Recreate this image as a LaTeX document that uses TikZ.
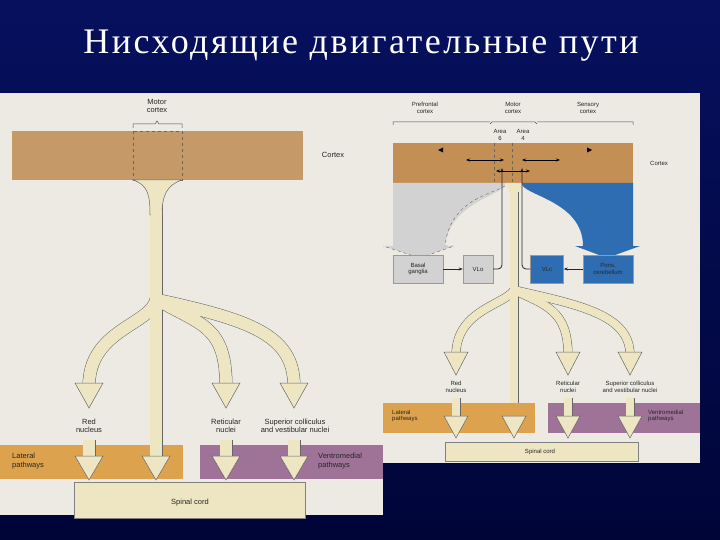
\documentclass[tikz,border=0pt]{standalone}
\usepackage{fontspec}
\setmainfont{Liberation Serif}
\newfontfamily\lab{Liberation Sans}
\usetikzlibrary{arrows.meta}
\definecolor{navy}{HTML}{06105E}
\definecolor{navyb}{HTML}{000538}
\definecolor{panel}{HTML}{ECEAE3}
\definecolor{ctx}{HTML}{C59A68}
\definecolor{ctxr}{HTML}{C38F55}
\definecolor{pale}{HTML}{EEE6C3}
\definecolor{latc}{HTML}{DDA24E}
\definecolor{venc}{HTML}{9E7397}
\definecolor{bluec}{HTML}{2F6DB3}
\definecolor{greyc}{HTML}{D2D2D2}
\tikzset{
  txt/.style={font=\lab\fontsize{7.5}{8.5}\selectfont, align=center, inner sep=0pt, text=black!85},
  txs/.style={font=\lab\fontsize{6}{6.8}\selectfont, align=center, inner sep=0pt, text=black!85},
  stemo/.style={line width=#1+1pt, draw=black!60},
  stemi/.style={line width=#1, draw=pale},
  head/.style={fill=pale, draw=black!60, line width=0.5pt},
  thin/.style={-{Stealth[length=4pt]}, line width=0.8pt, draw=black!85},
}
\newcommand{\branch}[2]{\draw[stemo=#1] #2; \draw[stemi=#1] #2;}
\newcommand{\hd}[4]{\path[head] (#1-#4,#2) -- (#1+#4,#2) -- (#1,#3) -- cycle;}
\begin{document}
\begin{tikzpicture}[x=1pt,y=-1pt]
\useasboundingbox (0,0) rectangle (720,540);
\shade[top color=navy, bottom color=navyb] (0,0) rectangle (720,540);
\node[text=white, font=\addfontfeatures{LetterSpace=7}\fontsize{36}{38}\selectfont] (title) at (361,46) {Нисходящие двигательные пути};
% ---------- right panel
\fill[panel] (383,93) rectangle (700,463);
\node[txs] (pf) at (425,108) {Prefrontal\\cortex};
\node[txs] (mr) at (513,108) {Motor\\cortex};
\node[txs] (sr) at (588,108) {Sensory\\cortex};
\draw[black!70, line width=0.5pt] (393,125) -- (393,122) -- (490,122) (490,124) -- (492,122) -- (535,122) -- (537,124) (537,122) -- (633,122) -- (633,125);
\node[txs] (a6) at (500,135) {Area\\6};
\node[txs] (a4) at (523,135) {Area\\4};
\fill[ctxr] (393,143) rectangle (633,183);
\node[txs] (cx2) at (659,163) {Cortex};
\fill[greyc] (393,183) -- (505,183) .. controls (508,195) and (450,200) .. (445,246) -- (454,246) -- (420,258) -- (383,246) -- (393,246) -- cycle;
\draw[black!60, dashed, line width=0.4pt] (505,186) .. controls (490,195) and (450,200) .. (445,246) -- (454,246) -- (420,258) -- (383,246);
\fill[bluec] (633,183) -- (522,183) .. controls (520,195) and (583,200) .. (583,246) -- (575,246) -- (607,258) -- (640,246) -- (633,246) -- cycle;
\draw[black!60, dashed, line width=0.4pt] (494,143) -- (494,183) (512,143) -- (512,183);
\fill[pale] (506,183) -- (522,183) -- (518,195) -- (510,195) -- cycle;
\node[draw=black!40, fill=greyc, minimum width=50pt, minimum height=28pt, txs] (bg) at (418,269) {Basal\\ganglia};
\node[draw=black!40, fill=greyc, minimum width=30pt, minimum height=28pt, txs] (vlo) at (478,269) {VLo};
\node[draw=black!40, fill=bluec, minimum width=33pt, minimum height=28pt, txs] (vlc) at (547,269) {VLc};
\node[draw=black!40, fill=bluec, minimum width=50pt, minimum height=28pt, txs] (pc) at (608,269) {Pons,\\cerebellum};
\draw[stemo=8pt] (514,290) .. controls (505,305) and (456,310) .. (456,355);
\draw[stemo=8pt] (514,290) .. controls (545,305) and (568,310) .. (568,355);
\draw[stemo=8pt] (514,290) .. controls (580,305) and (630,315) .. (630,355);
\draw[stemo=8pt] (514,192) -- (514,420);
\draw[stemi=8pt] (514,192) -- (514,420);
\draw[stemi=8pt] (514,290) .. controls (505,305) and (456,310) .. (456,355);
\draw[stemi=8pt] (514,290) .. controls (545,305) and (568,310) .. (568,355);
\draw[stemi=8pt] (514,290) .. controls (580,305) and (630,315) .. (630,355);
\hd{456}{352}{375}{12} \hd{568}{352}{375}{12} \hd{630}{352}{375}{12}
\fill[latc] (383,403) rectangle (535,433);
\fill[venc] (548,403) rectangle (700,433);
\node[txs, align=left, anchor=west] (lp2) at (392,416) {Lateral\\pathways};
\node[txs, align=left, anchor=west] (vp2) at (648,416) {Ventromedial\\pathways};
\draw[fill=pale, draw=black!50] (445,442) rectangle (638,461);
\node[txs] (sc2) at (540,452) {Spinal cord};
\node[txs] (rn2) at (456,387) {Red\\nucleus};
\node[txs] (rt2) at (568,387) {Reticular\\nuclei};
\node[txs] (sv2) at (630,387) {Superior colliculus\\and vestibular nuclei};
\foreach \xx in {456,568,630} {\branch{8pt}{(\xx,398) -- (\xx,418)}}
\foreach \xx in {456,514,568,630} {\hd{\xx}{416}{438}{12}}
\draw[thin] (bg.east) -- (vlo.west);
\draw[thin] (pc.west) -- (vlc.east);
\draw[thin, rounded corners=4pt] (vlo.east) -| (502,168);
\draw[thin, rounded corners=4pt] (vlc.west) -| (522,168);
\draw[{Stealth[length=4pt]}-{Stealth[length=4pt]}, line width=0.8pt] (466,160) -- (504,160);
\draw[{Stealth[length=4pt]}-{Stealth[length=4pt]}, line width=0.8pt] (522,160) -- (560,160);
\draw[{Stealth[length=4pt]}-{Stealth[length=4pt]}, line width=0.8pt] (496,171) -- (530,171);
\fill[black] (438,150) -- (443,147.5) -- (443,152.5) -- cycle;
\fill[black] (592,150) -- (587,147.5) -- (587,152.5) -- cycle;
% ---------- left panel
\fill[panel] (0,93) rectangle (383,515);
\fill[ctx] (12,131) rectangle (303,180);
\draw[dashed, black!60, line width=0.4pt] (133,131) rectangle (182,180);
\draw[black!70, line width=0.5pt] (133,128) -- (133,124) -- (155,124) -- (157,121) -- (159,124) -- (182,124) -- (182,128);
\node[txt] (mc) at (157,106) {Motor\\cortex};
\node[txt] (cx) at (333,155) {Cortex};
\fill[latc] (0,445) rectangle (183,479);
\fill[venc] (200,445) rectangle (383,479);
\node[txt, align=left, anchor=west] (lp) at (12,461) {Lateral\\pathways};
\node[txt, align=left, anchor=west] (vp) at (318,461) {Ventromedial\\pathways};
\draw[fill=pale, draw=black!50] (74,482) rectangle (305,518);
\node[txt] (sc) at (190,503) {Spinal cord};
\draw[stemo=12pt] (156,300) .. controls (150,325) and (89,330) .. (89,386);
\draw[stemo=12pt] (158,300) .. controls (200,325) and (226,325) .. (226,386);
\draw[stemo=12pt] (158,300) .. controls (250,320) and (294,335) .. (294,386);
\draw[stemo=12pt] (156,200) -- (156,460);
\draw[stemi=12pt] (156,205) -- (156,460);
\draw[stemi=12pt] (156,300) .. controls (150,325) and (89,330) .. (89,386);
\draw[stemi=12pt] (158,300) .. controls (200,325) and (226,325) .. (226,386);
\draw[stemi=12pt] (158,300) .. controls (250,320) and (294,335) .. (294,386);
\draw[fill=pale, draw=black!60, line width=0.5pt] (133,180) .. controls (148,185) and (150,195) .. (150,215) -- (162,215) .. controls (162,195) and (167,185) .. (182,180) -- cycle;
\fill[pale] (150.5,210) rectangle (161.5,225);
\hd{89}{383}{408}{14} \hd{226}{383}{408}{14} \hd{294}{383}{408}{14}
\branch{12pt}{(89,440) -- (89,458)} \branch{12pt}{(226,440) -- (226,458)} \branch{12pt}{(294,440) -- (294,458)}
\hd{89}{456}{480}{14} \hd{226}{456}{480}{14} \hd{294}{456}{480}{14} \hd{156}{456}{480}{14}
\node[txt] (rn) at (89,426) {Red\\nucleus};
\node[txt] (rt) at (226,426) {Reticular\\nuclei};
\node[txt] (sv) at (295,426) {Superior colliculus\\and vestibular nuclei};
\end{tikzpicture}
\end{document}
